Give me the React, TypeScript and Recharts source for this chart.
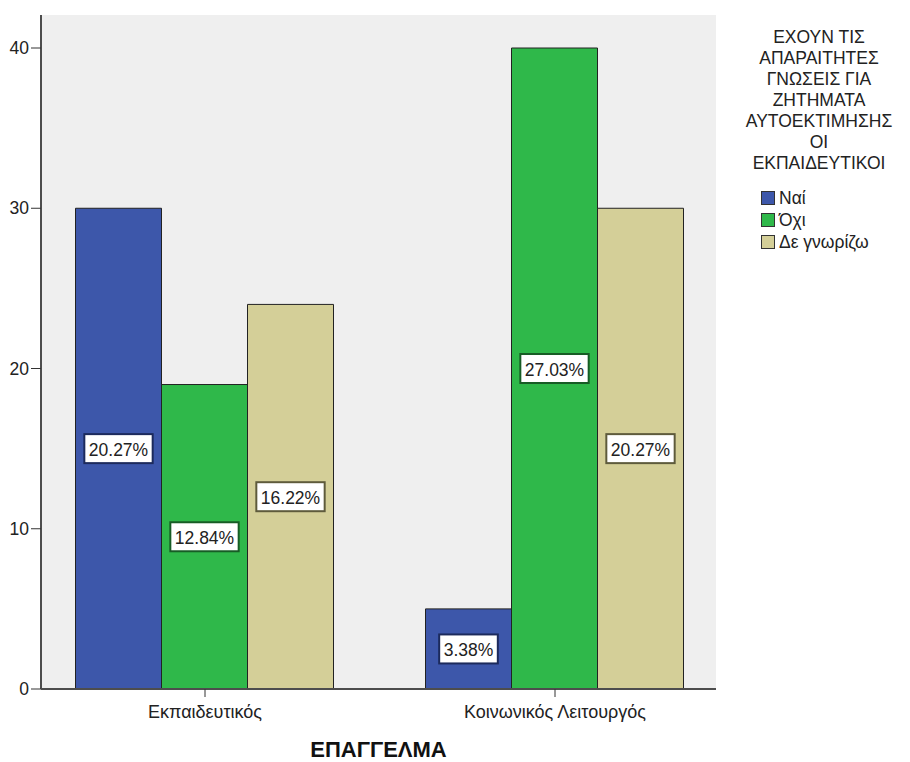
import { BarChart, Bar, XAxis, YAxis, CartesianGrid, LabelList } from 'recharts';

// Counts by profession for each answer
const professions = ['Εκπαιδευτικός', 'Κοινωνικός Λειτουργός'];
const naiCounts = [30, 5];
const oxiCounts = [19, 40];
const denGnorizoCounts = [24, 30];
const yTicks = [0, 10, 20, 30, 40];

const answerNames = ['Ναί', 'Όχι', 'Δε γνωρίζω'];
const legendTitle = [
  'ΕΧΟΥΝ ΤΙΣ',
  'ΑΠΑΡΑΙΤΗΤΕΣ',
  'ΓΝΩΣΕΙΣ ΓΙΑ',
  'ΖΗΤΗΜΑΤΑ',
  'ΑΥΤΟΕΚΤΙΜΗΣΗΣ',
  'ΟΙ',
  'ΕΚΠΑΙΔΕΥΤΙΚΟΙ',
];

const FILL = ['#3d57aa', '#2fb84a', '#d4cf98'];
const LABEL_STROKE = ['#1c2a5c', '#175c25', '#5e5b3c'];
const FONT = '"Liberation Sans", Arial, sans-serif';
const FS = 17.5;

const data = professions.map((name, i) => ({
  name,
  nai: naiCounts[i],
  oxi: oxiCounts[i],
  den: denGnorizoCounts[i],
}));

const total = [...naiCounts, ...oxiCounts, ...denGnorizoCounts].reduce((s, v) => s + v, 0);

// rough Arial advance widths for the label text
const charW = (c: string) => (c === '.' ? 0.278 : c === '%' ? 0.889 : 0.556);

function PctLabel(props: any) {
  const { x, y, width, height, value, stroke } = props;
  const text = `${((value / total) * 100).toFixed(2)}%`;
  const cx = x + width / 2;
  const cy = y + height / 2;
  const w = text.split('').reduce((s, c) => s + charW(c), 0) * FS + 9;
  const h = 29;
  return (
    <g>
      <rect x={cx - w / 2} y={cy - h / 2} width={w} height={h} fill="#fff" stroke={stroke} strokeWidth={2} />
      <text x={cx} y={cy + 1} textAnchor="middle" dominantBaseline="central" fontSize={FS} fontFamily={FONT} fill="#222">
        {text}
      </text>
    </g>
  );
}

function LegendBox() {
  return (
    <>
      <div
        style={{
          position: 'absolute',
          left: 728,
          top: 27,
          width: 182,
          fontFamily: FONT,
          color: '#222',
          textAlign: 'center',
          fontSize: FS,
          lineHeight: '21px',
        }}
      >
        {legendTitle.map((l) => (
          <div key={l}>{l}</div>
        ))}
      </div>
      <div style={{ position: 'absolute', left: 761, top: 187, fontFamily: FONT, color: '#222' }}>
        {answerNames.map((n, i) => (
          <div key={n} style={{ display: 'flex', alignItems: 'center', height: 22, fontSize: FS }}>
            <span
              style={{
                width: 14,
                height: 14,
                background: FILL[i],
                border: '1px solid #333',
                boxSizing: 'border-box',
                marginRight: 4,
              }}
            />
            {n}
          </div>
        ))}
      </div>
    </>
  );
}

export default function App() {
  return (
    <div style={{ position: 'absolute', left: 0, top: 0, width: 910, height: 762, background: '#fff' }}>
      <BarChart
        width={910}
        height={762}
        data={data}
        margin={{ top: 15, right: 194, bottom: 0, left: 0 }}
        barGap={0}
        barCategoryGap="13%"
      >
        <CartesianGrid horizontal={false} vertical={false} fill="#efefef" />
        <XAxis
          dataKey="name"
          height={73}
          padding={{ left: -11, right: -14 }}
          axisLine={{ stroke: '#4d4d4d', strokeWidth: 2 }}
          tickLine={{ stroke: '#333' }}
          tickSize={8}
          tickMargin={8}
          tick={{ fill: '#222', fontSize: 18, fontFamily: FONT }}
          label={{
            value: 'ΕΠΑΓΓΕΛΜΑ',
            position: 'insideBottom',
            offset: 5,
            fill: '#111',
            fontSize: 22,
            fontWeight: 'bold',
            fontFamily: FONT,
          }}
        />
        <XAxis
          xAxisId="top"
          dataKey="name"
          orientation="top"
          height={0}
          tick={false}
          tickLine={false}
          axisLine={{ stroke: '#4d4d4d', strokeWidth: 2 }}
        />
        <YAxis
          width={41}
          domain={[0, 42.06]}
          ticks={yTicks}
          allowDataOverflow
          axisLine={{ stroke: '#4d4d4d', strokeWidth: 2 }}
          tickLine={{ stroke: '#333' }}
          tickSize={10}
          tickMargin={2}
          tick={{ fill: '#222', fontSize: FS, fontFamily: FONT }}
        />
        <YAxis
          yAxisId="right"
          orientation="right"
          width={0}
          tick={false}
          tickLine={false}
          axisLine={{ stroke: '#4d4d4d', strokeWidth: 2 }}
        />
        <Bar dataKey="nai" name={answerNames[0]} fill={FILL[0]} stroke="#222" strokeWidth={1} isAnimationActive={false}>
          <LabelList dataKey="nai" content={(p: any) => <PctLabel {...p} stroke={LABEL_STROKE[0]} />} />
        </Bar>
        <Bar dataKey="oxi" name={answerNames[1]} fill={FILL[1]} stroke="#222" strokeWidth={1} isAnimationActive={false}>
          <LabelList dataKey="oxi" content={(p: any) => <PctLabel {...p} stroke={LABEL_STROKE[1]} />} />
        </Bar>
        <Bar dataKey="den" name={answerNames[2]} fill={FILL[2]} stroke="#222" strokeWidth={1} isAnimationActive={false}>
          <LabelList dataKey="den" content={(p: any) => <PctLabel {...p} stroke={LABEL_STROKE[2]} />} />
        </Bar>
      </BarChart>
      <LegendBox />
    </div>
  );
}
